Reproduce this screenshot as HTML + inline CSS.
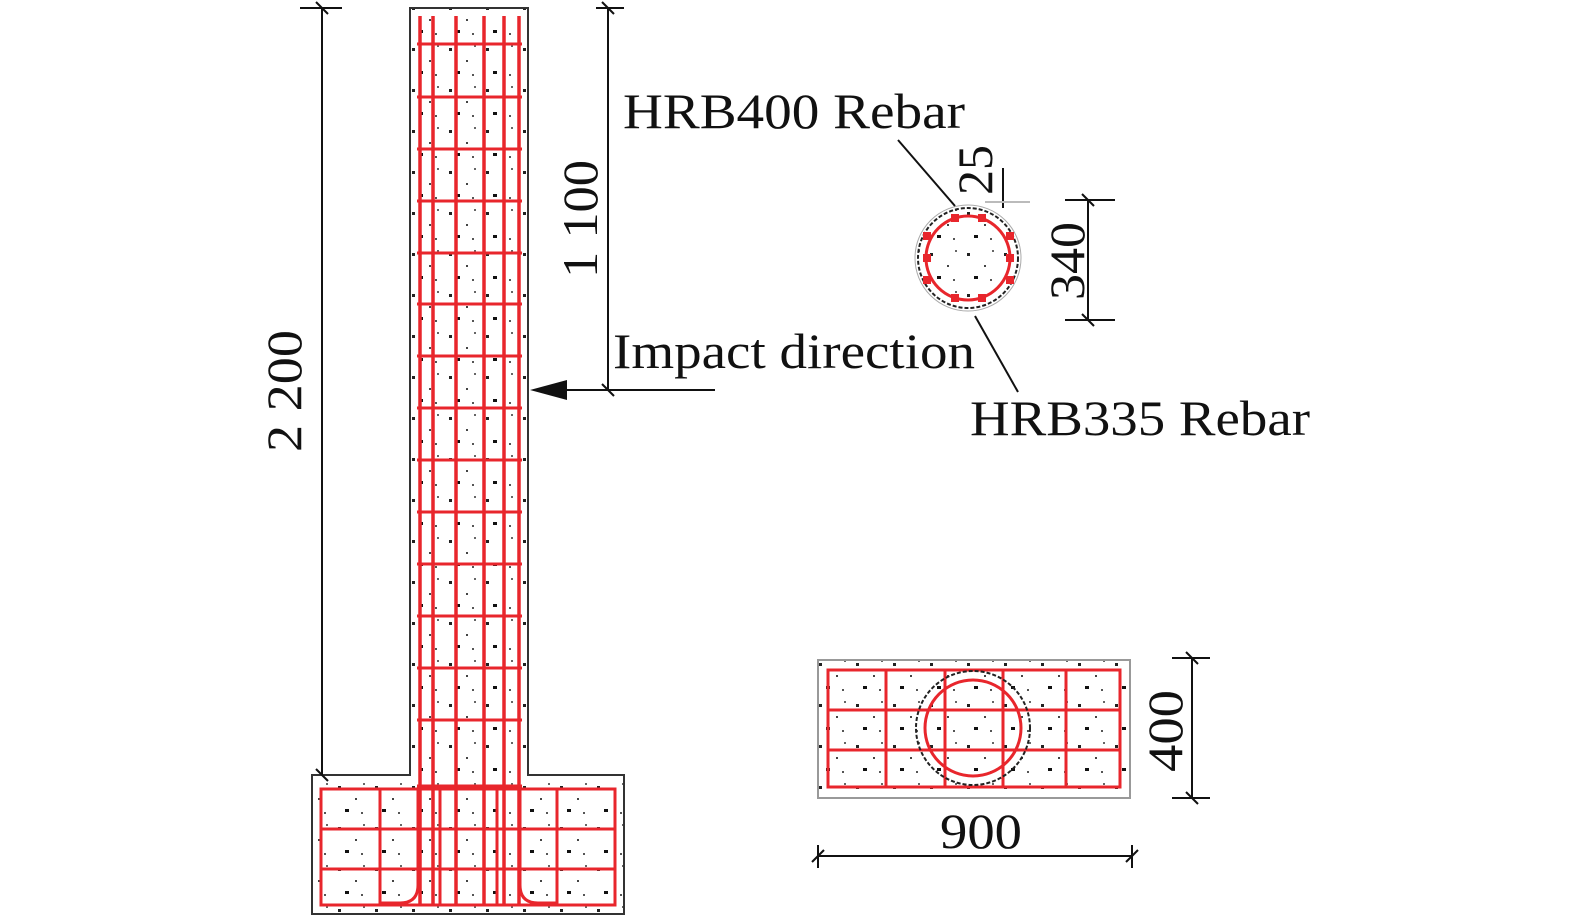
<!DOCTYPE html>
<html><head><meta charset="utf-8"><style>html,body{margin:0;padding:0;background:#fff;overflow:hidden}svg{display:block}text{font-family:"Liberation Serif",serif;fill:#111}</style></head><body>
<svg width="1575" height="920" viewBox="0 0 1575 920">
<defs>
<pattern id="dots" width="37" height="41" patternUnits="userSpaceOnUse">
<rect x="5" y="7" width="3" height="3" fill="#222"/><rect x="22" y="19" width="2" height="2" fill="#444"/><rect x="12" y="30" width="4" height="3" fill="#111"/><rect x="30" y="4" width="2" height="2" fill="#666"/><rect x="28" y="33" width="2" height="2" fill="#555"/>
</pattern>
</defs>
<g stroke="#111" fill="none" stroke-width="2">
<path d="M410 8 H528 V775 H624 V914 H312 V775 H410 Z" fill="url(#dots)" stroke="#333"/>
</g>
<g stroke="#e8262c" stroke-width="3.5" fill="none">
<line x1="420" y1="16" x2="420" y2="905"/><line x1="433" y1="16" x2="433" y2="905"/><line x1="456" y1="16" x2="456" y2="905"/><line x1="484" y1="16" x2="484" y2="905"/><line x1="504" y1="16" x2="504" y2="905"/><line x1="519" y1="16" x2="519" y2="905"/>
<g stroke-width="3">
<line x1="417" y1="44" x2="522" y2="44"/><line x1="417" y1="97" x2="522" y2="97"/><line x1="417" y1="149" x2="522" y2="149"/><line x1="417" y1="201" x2="522" y2="201"/><line x1="417" y1="253" x2="522" y2="253"/><line x1="417" y1="304" x2="522" y2="304"/><line x1="417" y1="356" x2="522" y2="356"/><line x1="417" y1="408" x2="522" y2="408"/><line x1="417" y1="460" x2="522" y2="460"/><line x1="417" y1="512" x2="522" y2="512"/><line x1="417" y1="564" x2="522" y2="564"/><line x1="417" y1="616" x2="522" y2="616"/><line x1="417" y1="668" x2="522" y2="668"/><line x1="417" y1="720" x2="522" y2="720"/><line x1="417" y1="786" x2="522" y2="786"/>
<rect x="321" y="789" width="294" height="116"/>
<line x1="321" y1="829" x2="615" y2="829"/><line x1="321" y1="869" x2="615" y2="869"/>
<line x1="380" y1="789" x2="380" y2="905"/><line x1="557" y1="789" x2="557" y2="905"/>
<line x1="440" y1="789" x2="440" y2="905"/><line x1="497" y1="789" x2="497" y2="905"/>
<path d="M418 789 V885 Q418 903 400 903 H380"/><path d="M520 789 V885 Q520 903 538 903 H557"/>
</g></g>
<g stroke="#111" stroke-width="2" fill="none">
<line x1="322" y1="8" x2="322" y2="775"/><line x1="300" y1="8" x2="342" y2="8"/>
<line x1="608" y1="8" x2="608" y2="390"/><line x1="596" y1="8" x2="624" y2="8"/>
<line x1="545" y1="390" x2="715" y2="390"/>
<line x1="316" y1="2" x2="328" y2="14"/><line x1="602" y1="2" x2="614" y2="14"/><line x1="316" y1="769" x2="328" y2="781"/><line x1="602" y1="384" x2="614" y2="396"/>
</g>
<polygon points="530,390 567,380 567,400" fill="#111"/>
<text transform="translate(301,391) rotate(-90)" font-size="50" text-anchor="middle" textLength="122" lengthAdjust="spacingAndGlyphs">2 200</text>
<text transform="translate(597,219) rotate(-90)" font-size="50" text-anchor="middle" textLength="118" lengthAdjust="spacingAndGlyphs">1 100</text>
<text x="613" y="368" font-size="50" textLength="362" lengthAdjust="spacingAndGlyphs">Impact direction</text>
<text x="623" y="128" font-size="50" textLength="342" lengthAdjust="spacingAndGlyphs">HRB400 Rebar</text>
<text x="970" y="435" font-size="50" textLength="340" lengthAdjust="spacingAndGlyphs">HRB335 Rebar</text>
<g fill="none">
<circle cx="968" cy="258" r="50" fill="url(#dots)" stroke="#222" stroke-width="2" stroke-dasharray="4 2"/>
<circle cx="968" cy="258" r="53" stroke="#aaa" stroke-width="1"/>
<circle cx="968" cy="258" r="42" stroke="#e8262c" stroke-width="3"/>
<g stroke="#111" stroke-width="2">
<line x1="898" y1="140" x2="955" y2="206"/><line x1="975" y1="316" x2="1018" y2="392"/>
<line x1="1003" y1="168" x2="1003" y2="208"/>
<line x1="1088" y1="200" x2="1088" y2="320"/><line x1="1065" y1="200" x2="1115" y2="200"/><line x1="1065" y1="320" x2="1115" y2="320"/>
<line x1="1082" y1="194" x2="1094" y2="206"/><line x1="1082" y1="314" x2="1094" y2="326"/>
</g>
<line x1="985" y1="202" x2="1030" y2="202" stroke="#bbb" stroke-width="2"/>
</g>
<g fill="#e8262c"><rect x="951" y="214" width="8" height="8"/><rect x="978" y="214" width="8" height="8"/><rect x="1006" y="232" width="8" height="8"/><rect x="1006" y="276" width="8" height="8"/><rect x="978" y="294" width="8" height="8"/><rect x="951" y="294" width="8" height="8"/><rect x="923" y="276" width="8" height="8"/><rect x="923" y="232" width="8" height="8"/><rect x="923" y="254" width="8" height="8"/><rect x="1006" y="254" width="8" height="8"/></g>
<text transform="translate(992,170) rotate(-90)" font-size="50" text-anchor="middle" textLength="50" lengthAdjust="spacingAndGlyphs">25</text>
<text transform="translate(1084,261) rotate(-90)" font-size="50" text-anchor="middle" textLength="78" lengthAdjust="spacingAndGlyphs">340</text>
<rect x="818" y="660" width="312" height="138" fill="url(#dots)" stroke="#999" stroke-width="2"/>
<g stroke="#e8262c" stroke-width="3" fill="none">
<rect x="828" y="670" width="292" height="117"/>
<line x1="828" y1="710" x2="1120" y2="710"/><line x1="828" y1="750" x2="1120" y2="750"/>
<line x1="886" y1="670" x2="886" y2="787"/><line x1="1066" y1="670" x2="1066" y2="787"/>
<line x1="945" y1="670" x2="945" y2="787"/><line x1="1003" y1="670" x2="1003" y2="787"/>
<circle cx="973" cy="728" r="48"/>
</g>
<circle cx="973" cy="728" r="57" fill="none" stroke="#222" stroke-width="2" stroke-dasharray="4 2"/>
<g stroke="#111" stroke-width="2">
<line x1="1192" y1="658" x2="1192" y2="798"/><line x1="1172" y1="658" x2="1210" y2="658"/><line x1="1172" y1="798" x2="1210" y2="798"/>
<line x1="1186" y1="652" x2="1198" y2="664"/><line x1="1186" y1="792" x2="1198" y2="804"/>
<line x1="818" y1="856" x2="1132" y2="856"/><line x1="818" y1="845" x2="818" y2="868"/><line x1="1132" y1="845" x2="1132" y2="868"/>
<line x1="812" y1="862" x2="824" y2="850"/><line x1="1126" y1="862" x2="1138" y2="850"/>
</g>
<text transform="translate(1182,731) rotate(-90)" font-size="50" text-anchor="middle" textLength="82" lengthAdjust="spacingAndGlyphs">400</text>
<text x="981" y="848" font-size="50" text-anchor="middle" textLength="82" lengthAdjust="spacingAndGlyphs">900</text>
</svg>
</body></html>
